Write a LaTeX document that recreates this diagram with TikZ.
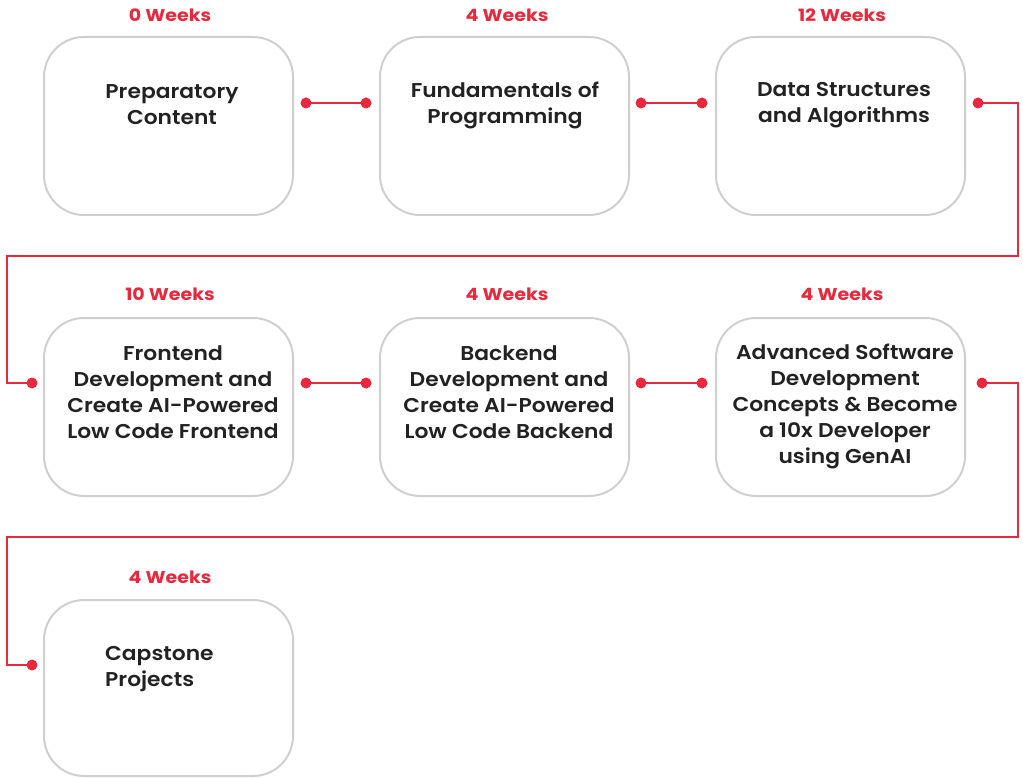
\documentclass[tikz,border=0pt]{standalone}
\usepackage{fontspec}
\setmainfont{Poppins}
\newfontfamily\ttlfont{Poppins SemiBold}[FakeStretch=1.09]
\newfontfamily\wkfont{Poppins}[FakeStretch=1.12]
\definecolor{rred}{HTML}{E8293D}
\definecolor{boxgray}{HTML}{CFCFCF}
\definecolor{txt}{HTML}{222222}
\begin{document}
\begin{tikzpicture}[x=1pt,y=-1pt,
  stage/.style={draw=boxgray,line width=2pt,rounded corners=40pt,minimum width=249pt,minimum height=178pt,inner sep=0pt},
  ttl/.style={font=\ttlfont\fontsize{20}{26}\selectfont,text=txt,align=center,inner sep=0pt},
  wk/.style={font=\wkfont\fontsize{17}{20}\selectfont\bfseries,text=rred,inner sep=0pt},
  link/.style={draw=rred,line width=1.6pt},
  dotc/.style={fill=rred}]
\useasboundingbox (0,0) rectangle (1023,778);
% boxes
\node[stage] (b1) at (168.5,126) {};
\node[stage] (b2) at (504.5,126) {};
\node[stage] (b3) at (840.5,126) {};
\node[stage] (b4) at (168.5,407) {};
\node[stage] (b5) at (504.5,407) {};
\node[stage] (b6) at (840.5,407) {};
\node[stage,minimum height=176pt] (b7) at (168.5,688) {};
% week labels
\node[wk] (w1) at (170,15) {0 Weeks};
\node[wk] (w2) at (507,15) {4 Weeks};
\node[wk] (w3) at (842,15) {12 Weeks};
\node[wk] (w4) at (170,294) {10 Weeks};
\node[wk] (w5) at (507,294) {4 Weeks};
\node[wk] (w6) at (842,294) {4 Weeks};
\node[wk] (w7) at (170,577) {4 Weeks};
% titles
\node[ttl] (t1) at (172,104.5) {Preparatory\\Content};
\node[ttl] (t2) at (505,105) {Fundamentals of\\Programming};
\node[ttl] (t3) at (844,105) {Data Structures\\and Algorithms};
\node[ttl] (t4) at (173,392.5) {Frontend\\Development and\\Create AI-Powered\\Low Code Frontend};
\node[ttl] (t5) at (509,392.5) {Backend\\Development and\\Create AI-Powered\\Low Code Backend};
\node[ttl] (t6) at (845,406) {Advanced Software\\Development\\Concepts \& Become\\a 10x Developer\\using GenAI};
\node[ttl,align=left,anchor=west] (t7) at (105,669) {Capstone\\Projects};
% connector points
\coordinate (p1) at (306,103); \coordinate (q2) at (366,103);
\coordinate (p2) at (641,103); \coordinate (q3) at (702,103);
\coordinate (p3) at (978,103);
\coordinate (q4) at (32,383);
\coordinate (p4) at (306,383); \coordinate (q5) at (366,383);
\coordinate (p5) at (641,383); \coordinate (q6) at (702,383);
\coordinate (p6) at (982,383);
\coordinate (q7) at (32,665);
% links
\draw[link] (p1) -- (q2);
\draw[link] (p2) -- (q3);
\draw[link] (p3) -| (1018,256) -| (7,383) -- (q4);
\draw[link] (p4) -- (q5);
\draw[link] (p5) -- (q6);
\draw[link] (p6) -| (1018,537) -| (7,665) -- (q7);
\foreach \c in {p1,q2,p2,q3,p3,q4,p4,q5,p5,q6,p6,q7} \fill[dotc] (\c) circle (5.5pt);
\end{tikzpicture}
\end{document}
